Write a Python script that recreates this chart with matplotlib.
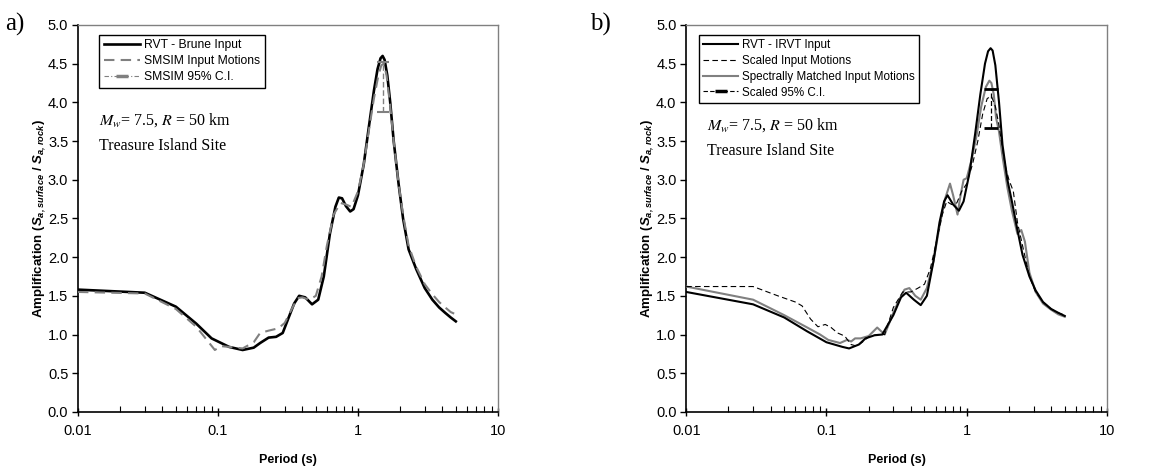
import numpy as np
import matplotlib
matplotlib.use("Agg")
import matplotlib.pyplot as plt
from matplotlib.lines import Line2D
from matplotlib.ticker import LogLocator, FixedLocator, FixedFormatter

plt.rcParams['font.family'] = ['Liberation Sans', 'DejaVu Sans']
plt.rcParams['mathtext.fontset'] = 'custom'
plt.rcParams['mathtext.rm'] = 'Liberation Sans:bold'
plt.rcParams['mathtext.bf'] = 'Liberation Sans:bold:italic'
plt.rcParams['mathtext.it'] = 'Liberation Sans:bold:italic'

# panel a) data
rvt_a_T = [0.01, 0.03, 0.05, 0.07, 0.09, 0.12, 0.15, 0.18, 0.2, 0.23, 0.26, 0.29, 0.32, 0.35, 0.38, 0.42, 0.47,
           0.52, 0.57, 0.63, 0.69, 0.73, 0.77, 0.82, 0.88, 0.93, 1.0, 1.1, 1.2, 1.3, 1.38, 1.45, 1.5, 1.55, 1.62,
           1.7, 1.8, 1.95, 2.1, 2.3, 2.6, 3.0, 3.4, 3.8, 4.2, 4.6, 5.0]
rvt_a_A = [1.58, 1.54, 1.36, 1.14, 0.95, 0.84, 0.80, 0.83, 0.89, 0.96, 0.97, 1.02, 1.22, 1.40, 1.50, 1.48, 1.39,
           1.45, 1.75, 2.30, 2.65, 2.77, 2.76, 2.66, 2.59, 2.62, 2.80, 3.20, 3.70, 4.15, 4.43, 4.57, 4.60, 4.55,
           4.35, 4.00, 3.50, 2.95, 2.50, 2.10, 1.85, 1.60, 1.45, 1.35, 1.28, 1.22, 1.17]

smsim_T = [0.01, 0.03, 0.05, 0.07, 0.095, 0.105, 0.12, 0.15, 0.18, 0.2, 0.23, 0.27, 0.3, 0.33, 0.37, 0.4, 0.45,
           0.5, 0.55, 0.6, 0.67, 0.75, 0.82, 0.9, 1.0, 1.1, 1.2, 1.3, 1.4, 1.47, 1.53, 1.6, 1.7, 1.8, 1.95, 2.1,
           2.3, 2.6, 3.0, 3.4, 3.8, 4.2, 4.6, 5.0]
smsim_A = [1.55, 1.53, 1.33, 1.10, 0.80, 0.85, 0.84, 0.82, 0.90, 1.02, 1.05, 1.08, 1.15, 1.30, 1.47, 1.48, 1.45,
           1.50, 1.75, 2.15, 2.55, 2.70, 2.68, 2.65, 2.85, 3.20, 3.65, 4.05, 4.35, 4.48, 4.50, 4.35, 3.95, 3.50,
           2.95, 2.55, 2.15, 1.88, 1.65, 1.52, 1.42, 1.35, 1.29, 1.26]

smsim_ci_T = [1.52]
smsim_ci_mid = [4.20]
smsim_ci_lo = [3.88]
smsim_ci_hi = [4.52]

# panel b) data
rvt_b_T = [0.01, 0.03, 0.05, 0.073, 0.1, 0.13, 0.145, 0.17, 0.19, 0.22, 0.25, 0.3, 0.34, 0.37, 0.42, 0.47, 0.52,
           0.58, 0.64, 0.69, 0.73, 0.8, 0.88, 0.95, 1.05, 1.15, 1.25, 1.35, 1.42, 1.48, 1.53, 1.6, 1.7, 1.8, 1.95,
           2.1, 2.3, 2.5, 2.8, 3.1, 3.5, 4.0, 4.5, 5.0]
rvt_b_A = [1.55, 1.39, 1.22, 1.04, 0.90, 0.84, 0.82, 0.87, 0.95, 0.99, 1.00, 1.25, 1.48, 1.54, 1.45, 1.38, 1.50,
           1.95, 2.45, 2.72, 2.80, 2.68, 2.60, 2.72, 3.10, 3.60, 4.10, 4.50, 4.66, 4.70, 4.67, 4.48, 4.00, 3.45,
           3.00, 2.72, 2.35, 2.03, 1.75, 1.57, 1.42, 1.33, 1.28, 1.24]

scaled_T = [0.01, 0.03, 0.045, 0.06, 0.067, 0.077, 0.087, 0.098, 0.108, 0.12, 0.135, 0.15, 0.165, 0.18, 0.2,
            0.23, 0.26, 0.3, 0.35, 0.4, 0.45, 0.5, 0.55, 0.6, 0.67, 0.72, 0.78, 0.85, 0.92, 1.0, 1.1, 1.2, 1.3,
            1.4, 1.5, 1.6, 1.7, 1.8, 1.9, 2.0, 2.15, 2.3, 2.5, 2.8, 3.1, 3.5, 4.0, 4.5, 5.0]
scaled_A = [1.62, 1.62, 1.50, 1.42, 1.37, 1.20, 1.10, 1.13, 1.09, 1.02, 0.98, 0.87, 0.85, 0.90, 0.97,
            1.00, 1.00, 1.35, 1.55, 1.55, 1.60, 1.65, 1.85, 2.15, 2.55, 2.72, 2.68, 2.70, 2.85, 2.95, 3.20, 3.50,
            3.85, 4.05, 4.08, 3.95, 3.70, 3.40, 3.15, 3.00, 2.85, 2.45, 2.15, 1.75, 1.55, 1.42, 1.33, 1.28, 1.25]

matched_T = [0.01, 0.03, 0.05, 0.073, 0.09, 0.103, 0.125, 0.14, 0.15, 0.16, 0.175, 0.2, 0.23, 0.26, 0.3, 0.33,
             0.36, 0.39, 0.43, 0.47, 0.52, 0.58, 0.64, 0.7, 0.76, 0.8, 0.86, 0.9, 0.95, 1.0, 1.08, 1.17, 1.27,
             1.37, 1.45, 1.5, 1.56, 1.62, 1.7, 1.8, 1.95, 2.1, 2.3, 2.45, 2.6, 2.8, 3.1, 3.5, 4.0, 4.5, 5.0]
matched_A = [1.62, 1.45, 1.25, 1.09, 1.00, 0.93, 0.89, 0.93, 0.91, 0.95, 0.95, 0.98, 1.09, 1.00, 1.28, 1.45,
             1.58, 1.60, 1.50, 1.45, 1.60, 1.95, 2.40, 2.75, 2.95, 2.80, 2.55, 2.78, 3.00, 3.02, 3.25, 3.55, 3.95,
             4.20, 4.28, 4.25, 4.10, 3.80, 3.62, 3.30, 2.90, 2.60, 2.30, 2.35, 2.20, 1.80, 1.55, 1.40, 1.32, 1.26,
             1.23]

scaled_ci_T = [1.5]
scaled_ci_mid = [3.92]
scaled_ci_lo = [3.67]
scaled_ci_hi = [4.17]

x_ticks = [0.01, 0.1, 1, 10]
x_tick_labels = ["0.01", "0.1", "1", "10"]
y_ticks = [0.0, 0.5, 1.0, 1.5, 2.0, 2.5, 3.0, 3.5, 4.0, 4.5, 5.0]

gray = '#808080'


def style_axes(ax, note_y):
    ax.set_xscale('log')
    ax.set_xlim(0.01, 10)
    ax.set_ylim(0, 5)
    ax.xaxis.set_major_locator(FixedLocator(x_ticks))
    ax.xaxis.set_major_formatter(FixedFormatter(x_tick_labels))
    ax.xaxis.set_minor_locator(LogLocator(base=10, subs=np.arange(2, 10)))
    ax.set_yticks(y_ticks)
    ax.set_yticklabels(["%.1f" % v for v in y_ticks])
    ax.tick_params(axis='x', which='major', direction='inout', length=6, width=1, labelsize=10.5, pad=6)
    ax.tick_params(axis='x', which='minor', direction='in', length=4, width=0.8)
    ax.tick_params(axis='y', which='major', direction='out', length=4, width=1, labelsize=10.5, pad=3)
    for side in ['top', 'right']:
        ax.spines[side].set_color(gray)
        ax.spines[side].set_linewidth(1)
    for side in ['left', 'bottom']:
        ax.spines[side].set_color('black')
        ax.spines[side].set_linewidth(1.2)
    ax.set_xlabel("Period (s)", fontsize=9, fontweight='bold', labelpad=11)
    ax.set_ylabel(r"Amplification ($\mathbf{S}_{\mathbf{a,surface}}$ / $\mathbf{S}_{\mathbf{a,rock}}$)",
                  fontsize=9.5, fontweight='bold', labelpad=0)
    ax.text(0.05, note_y, r"$M_w$= 7.5, $R$ = 50 km", transform=ax.transAxes, fontsize=11.5,
            family='Liberation Serif', math_fontfamily='stix')
    ax.text(0.05, note_y - 0.065, "Treasure Island Site", transform=ax.transAxes, fontsize=11.5,
            family='Liberation Serif')


def add_legend(ax, handles, labels, x0, size):
    leg = ax.legend(handles, labels, loc='upper left', bbox_to_anchor=(x0, 0.975),
                    prop={'size': size}, frameon=True, fancybox=False, edgecolor='black', framealpha=1,
                    handlelength=3.0, handletextpad=0.3, borderpad=0.4, labelspacing=0.32, borderaxespad=0)
    leg.get_frame().set_linewidth(1)
    return leg


fig = plt.figure(figsize=(11.73, 4.67), dpi=100)
ax1 = fig.add_axes([0.0665, 0.118, 0.358, 0.8285])
ax2 = fig.add_axes([0.585, 0.118, 0.3587, 0.8285])

# a)
ax1.plot(rvt_a_T, rvt_a_A, color='black', lw=1.9, label="RVT - Brune Input", zorder=3)
ax1.plot(smsim_T, smsim_A, color=gray, lw=1.5, dashes=(5, 3), label="SMSIM Input Motions", zorder=4)
eb = ax1.errorbar(smsim_ci_T, smsim_ci_mid,
                  yerr=[np.subtract(smsim_ci_mid, smsim_ci_lo), np.subtract(smsim_ci_hi, smsim_ci_mid)],
                  fmt='none', ecolor=gray, elinewidth=1, capsize=4, capthick=1.5, zorder=5)
eb[2][0].set_linestyle((0, (4, 2)))
ci_a = Line2D([0, 1, 2], [0, 0, 0], color=gray, lw=0.8, linestyle=(0, (4, 2, 1, 2)), marker='_', markersize=8,
              markeredgewidth=2.5, markevery=[1])
h1, l1 = ax1.get_legend_handles_labels()
add_legend(ax1, h1 + [ci_a], l1 + ["SMSIM 95% C.I."], 0.05, 8.7)
style_axes(ax1, 0.742)

# b)
ax2.plot(rvt_b_T, rvt_b_A, color='black', lw=1.5, label="RVT - IRVT Input", zorder=4)
ax2.plot(scaled_T, scaled_A, color='black', lw=0.8, dashes=(5, 3), label="Scaled Input Motions", zorder=5)
ax2.plot(matched_T, matched_A, color=gray, lw=1.5, label="Spectrally Matched Input Motions", zorder=3)
eb2 = ax2.errorbar(scaled_ci_T, scaled_ci_mid,
                   yerr=[np.subtract(scaled_ci_mid, scaled_ci_lo), np.subtract(scaled_ci_hi, scaled_ci_mid)],
                   fmt='none', ecolor='black', elinewidth=0.9, capsize=5, capthick=2, zorder=6)
eb2[2][0].set_linestyle((0, (4, 2)))
ci_b = Line2D([0, 1, 2], [0, 0, 0], color='black', lw=0.8, linestyle=(0, (4, 2)), marker='_', markersize=8,
              markeredgewidth=2.5, markevery=[1])
h2, l2 = ax2.get_legend_handles_labels()
add_legend(ax2, h2 + [ci_b], l2 + ["Scaled 95% C.I."], 0.03, 8.4)
style_axes(ax2, 0.73)

fig.text(0.004, 0.935, "a)", fontsize=18, family='Liberation Serif')
fig.text(0.503, 0.935, "b)", fontsize=18, family='Liberation Serif')

fig.savefig("out.png", dpi=100)
